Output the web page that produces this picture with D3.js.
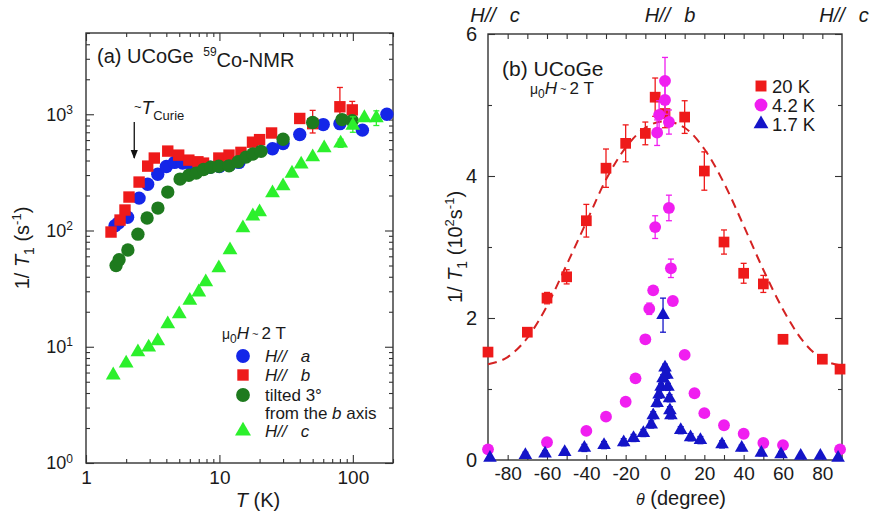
<!DOCTYPE html>
<html><head><meta charset="utf-8">
<script src="https://cdn.jsdelivr.net/npm/d3@7"></script>
<style>
body{margin:0;background:#fff}
svg text{font-family:"Liberation Sans",Arial,Helvetica,sans-serif;fill:#1a1a1a}
</style>
</head><body>
<svg id="chart" width="877" height="518"></svg>
<script>
// ---------- Panel (a): [T (K), 1/T1 (s^-1)] ----------
const aHa = [[1.65,110],[1.75,116],[2.05,130],[2.5,190],[2.9,250],[3.45,305],[4.0,355],[4.6,385],[5.3,380],[6.2,365],[7.2,350],[8.5,350],[10,355],[12,368],[14,385],[25,505],[30,560],[40,670],[60,815],[80,830],[118,730],[180,1000]];
const aHb = [[1.54,97],[1.8,123],[1.96,150],[2.1,194],[2.5,261],[2.9,358],[3.25,420],[4.1,482],[4.95,445],[5.9,403],[6.9,390],[7.6,380],[9.9,420],[11.8,445],[14.5,470],[17.7,575],[20,605],[24.6,690],[40,920],[50,830],[80,1160],[99,1090]];
const aHbErr = [[50,690,1080],[80,775,1700],[99,905,1290]];
const aTilt = [[1.68,50],[1.77,56],[2.06,68],[2.45,93],[2.87,128],[3.46,156],[4.1,214],[5.07,277],[5.9,299],[6.7,312],[7.6,335],[8.6,350],[9.9,357],[11.8,360],[13.8,390],[15.8,428],[17.8,455],[20.5,480],[30,610],[50,850],[83,900],[99,880]];
const aHc = [[1.6,5.7],[2.0,7.2],[2.45,9],[2.95,9.9],[3.45,11.2],[4.1,15.7],[5.0,19.1],[6.0,25],[7.0,29.5],[7.9,36],[9.9,47.5],[12,68],[15,105],[17.8,133],[20,144],[25,210],[30,241],[35,310],[41,372],[50,428],[61,512],[81,563],[100,800],[122,930],[150,930]];
const aHcErr = [[81,520,610],[100,700,950],[150,800,1070]];
const aXMajor = [1,10,100];
const aYMajor = [1,10,100,1000];

// ---------- Panel (b): [theta (deg), 1/T1 (10^2 s^-1), error] ----------
const b20K = [[-90,1.52,0],[-70,1.80,0.05],[-60,2.28,0.08],[-50,2.58,0.1],[-40,3.37,0.23],[-30,4.11,0.27],[-20,4.46,0.26],[-10,4.6,0.16],[-5,5.11,0.27],[0,4.88,0.2],[10,4.83,0.23],[20,4.07,0.27],[30,3.07,0.17],[40,2.63,0.14],[50,2.48,0.12],[60,1.70,0],[80,1.42,0],[89,1.28,0]];
const b42K = [[-90,0.15,0],[-60,0.25,0],[-40,0.41,0],[-30,0.61,0],[-20,0.82,0],[-15,1.15,0],[-10,1.70,0],[-8,2.13,0.08],[-6,2.39,0],[-5,3.28,0.16],[-4,4.61,0.18],[-3,4.86,0.2],[0,5.07,0.2],[0,5.34,0.33],[2,4.76,0.17],[2,3.55,0.18],[3,2.70,0.13],[4,2.24,0],[10,1.48,0],[15,0.94,0],[20,0.66,0],[30,0.49,0],[40,0.37,0],[50,0.24,0],[60,0.21,0],[89,0.15,0]];
const b17K = [[-89,0.03,0],[-71,0.07,0.04],[-61,0.09,0.04],[-51,0.11,0.04],[-41,0.17,0.05],[-31,0.21,0.05],[-21,0.25,0.05],[-16,0.31,0.05],[-11,0.38,0.05],[-7,0.5,0.05],[-6,0.63,0.05],[-4,0.8,0.05],[-3,0.92,0.05],[-2,1.03,0.05],[-1,1.15,0.05],[0,1.3,0.05],[1,1.2,0.05],[1.5,1.03,0.05],[2.3,0.87,0.05],[2.5,0.7,0.05],[3,0.63,0.05],[8,0.42,0.05],[13,0.32,0.05],[18,0.28,0.05],[29,0.22,0.05],[39,0.17,0.04],[49,0.1,0.04],[59,0.08,0.04],[69,0.06,0],[79,0.06,0],[88,0.03,0],[-1,2.04,0.24]];
const bFit = [[-90,1.35],[-80,1.45],[-70,1.72],[-60,2.17],[-50,2.75],[-40,3.35],[-30,3.95],[-20,4.4],[-10,4.68],[0,4.77],[10,4.68],[20,4.38],[30,3.9],[40,3.3],[50,2.68],[60,2.12],[70,1.68],[80,1.42],[90,1.33]];
const bXLabels = [-80,-60,-40,-20,0,20,40,60,80];
const bXMinor = [-80,-70,-60,-50,-40,-30,-20,-10,0,10,20,30,40,50,60,70,80];
const bYMajor = [0,2,4,6];
const bYMinor = [1,3,5];

const C = {blue:"#1426e8", red:"#ee1a1a", dgreen:"#1e7a1e", lgreen:"#2cf02c", mag:"#f01ef0", blue2:"#1414c8", fit:"#d42222", axis:"#333"};

const svg = d3.select("#chart");
const FONT = '"Liberation Sans",Arial,Helvetica,sans-serif';

function styleAxis(g, size){
  g.select(".domain").remove();
  g.attr("font-family", FONT).attr("font-size", size);
  g.selectAll(".tick line").attr("stroke", C.axis).attr("stroke-width", 1.1);
  g.selectAll(".tick text").attr("fill", "#1a1a1a");
}
const plain = d => String(d);

// =============== Panel (a) ===============
const aL=86, aR=393, aT=33, aB=463;
const xA = d3.scaleLog().domain([1,200]).range([aL,aR]);
const yA = d3.scaleLog().domain([1,5000]).range([aB,aT]);
const ga = svg.append("g");
const aXMinor = xA.ticks().filter(d => !aXMajor.includes(d));
const aYMinor = yA.ticks().filter(d => !aYMajor.includes(d));

ga.append("g").attr("transform",`translate(0,${aB})`).call(d3.axisBottom(xA).tickValues(aXMinor).tickSize(-4).tickFormat("")).call(g=>styleAxis(g,19));
ga.append("g").attr("transform",`translate(0,${aB})`).call(d3.axisBottom(xA).tickValues(aXMajor).tickSize(-8).tickPadding(8).tickFormat(plain)).call(g=>styleAxis(g,19));
ga.append("g").attr("transform",`translate(0,${aT})`).call(d3.axisTop(xA).tickValues(aXMinor).tickSize(-4).tickFormat("")).call(g=>styleAxis(g,19));
ga.append("g").attr("transform",`translate(0,${aT})`).call(d3.axisTop(xA).tickValues(aXMajor).tickSize(-8).tickFormat("")).call(g=>styleAxis(g,19));
ga.append("g").attr("transform",`translate(${aL},0)`).call(d3.axisLeft(yA).tickValues(aYMinor).tickSize(-4).tickFormat("")).call(g=>styleAxis(g,18));
const yAxA = ga.append("g").attr("transform",`translate(${aL},0)`).call(d3.axisLeft(yA).tickValues(aYMajor).tickSize(-8).tickPadding(13).tickFormat(d=>"10^"+Math.round(Math.log10(d)))).call(g=>styleAxis(g,18));
yAxA.selectAll(".tick text").each(function(d){
  const t = d3.select(this); t.text("");
  t.append("tspan").text("10");
  t.append("tspan").attr("dy","-0.55em").attr("font-size","12px").text(Math.round(Math.log10(d)));
});
ga.append("g").attr("transform",`translate(${aR},0)`).call(d3.axisRight(yA).tickValues(aYMinor).tickSize(-4).tickFormat("")).call(g=>styleAxis(g,18));
ga.append("g").attr("transform",`translate(${aR},0)`).call(d3.axisRight(yA).tickValues(aYMajor).tickSize(-8).tickFormat("")).call(g=>styleAxis(g,18));
ga.append("rect").attr("x",aL).attr("y",aT).attr("width",aR-aL).attr("height",aB-aT).attr("fill","none").attr("stroke",C.axis).attr("stroke-width",1.4);

function errA(data,color){
  const g = ga.append("g").attr("stroke",color).attr("stroke-width",1.3);
  data.forEach(([t,lo,hi])=>{
    g.append("line").attr("x1",xA(t)).attr("x2",xA(t)).attr("y1",yA(lo)).attr("y2",yA(hi));
    g.append("line").attr("x1",xA(t)-3).attr("x2",xA(t)+3).attr("y1",yA(lo)).attr("y2",yA(lo));
    g.append("line").attr("x1",xA(t)-3).attr("x2",xA(t)+3).attr("y1",yA(hi)).attr("y2",yA(hi));
  });
}
function symA(data,type,size,color){
  ga.append("g").selectAll("path").data(data).join("path")
    .attr("d", d3.symbol().type(type).size(size))
    .attr("transform", d=>`translate(${xA(d[0])},${yA(d[1])})`)
    .attr("fill", color);
}
errA(aHbErr, C.red);
symA(aHa, d3.symbolCircle, 140, C.blue);
symA(aHb, d3.symbolSquare, 130, C.red);
symA(aTilt, d3.symbolCircle, 140, C.dgreen);
errA(aHcErr, C.lgreen);
symA(aHc, d3.symbolTriangle, 95, C.lgreen);

const tA = ga.append("text").attr("x",97).attr("y",63).attr("font-size",20);
tA.append("tspan").text("(a) UCoGe ");
tA.append("tspan").attr("dx",4).attr("dy","-0.55em").attr("font-size",12).text("59");
tA.append("tspan").attr("dy","0.55em").text("Co-NMR");

const tc = ga.append("text").attr("x",134).attr("y",114).attr("font-size",19);
tc.append("tspan").attr("font-size",13).attr("dy",-3).text("~");
tc.append("tspan").attr("dy",3).attr("font-style","italic").text("T");
tc.append("tspan").attr("font-size",13).attr("dy",6).text("Curie");
svg.append("defs").append("marker").attr("id","arr").attr("viewBox","0 0 10 10").attr("refX",9).attr("refY",5)
  .attr("markerWidth",7).attr("markerHeight",7).attr("orient","auto")
  .append("path").attr("d","M0,1 L10,5 L0,9 Z").attr("fill","#111");
ga.append("line").attr("x1",xA(2.3)).attr("x2",xA(2.3)).attr("y1",122).attr("y2",158).attr("stroke","#111").attr("stroke-width",1.3).attr("marker-end","url(#arr)");

const lgA = ga.append("g").attr("font-size",17);
const hdr = lgA.append("text").attr("x",222).attr("y",339);
hdr.append("tspan").attr("font-size",14).text("μ");
hdr.append("tspan").attr("font-size",12).attr("dy",4).text("0");
hdr.append("tspan").attr("dy",-4).attr("font-style","italic").text("H");
hdr.append("tspan").attr("font-size",11).attr("dy",-1).text(" ~ ");
hdr.append("tspan").attr("dy",1).text("2 T");
const legAItems = [
  {y:356, type:d3.symbolCircle, size:150, color:C.blue, t:"a"},
  {y:375, type:d3.symbolSquare, size:130, color:C.red, t:"b"},
  {y:395, type:d3.symbolCircle, size:150, color:C.dgreen, t:null},
  {y:431, type:d3.symbolTriangle, size:110, color:C.lgreen, t:"c"}
];
legAItems.forEach(it=>{
  lgA.append("path").attr("d",d3.symbol().type(it.type).size(it.size)).attr("transform",`translate(243,${it.y})`).attr("fill",it.color);
  if(it.t){
    const tx = lgA.append("text").attr("x",265).attr("y",it.y+6).attr("font-style","italic");
    tx.append("tspan").text("H//");
    tx.append("tspan").attr("dx",14).text(it.t);
  }
});
lgA.append("text").attr("x",265).attr("y",401).text("tilted 3°");
const fr = lgA.append("text").attr("x",265).attr("y",419);
fr.append("tspan").text("from the ");
fr.append("tspan").attr("font-style","italic").text("b");
fr.append("tspan").text(" axis");

const xtA = ga.append("text").attr("x",258).attr("y",507).attr("text-anchor","middle").attr("font-size",20);
xtA.append("tspan").attr("font-style","italic").text("T");
xtA.append("tspan").text(" (K)");
const ytA = ga.append("text").attr("transform","translate(29,248) rotate(-90)").attr("text-anchor","middle").attr("font-size",20);
ytA.append("tspan").text("1/ ");
ytA.append("tspan").attr("font-style","italic").text("T");
ytA.append("tspan").attr("font-size",14).attr("dy",5).text("1");
ytA.append("tspan").attr("dy",-5).text(" (s");
ytA.append("tspan").attr("font-size",13).attr("dy",-8).text("-1");
ytA.append("tspan").attr("dy",8).text(")");

// =============== Panel (b) ===============
const bL=488, bR=842, bT=34, bB=460;
const xB = d3.scaleLinear().domain([-90,90]).range([bL,bR]);
const yB = d3.scaleLinear().domain([0,6]).range([bB,bT]);
const gb = svg.append("g");
gb.append("g").attr("transform",`translate(0,${bB})`).call(d3.axisBottom(xB).tickValues(bXMinor).tickSize(-5).tickFormat("")).call(g=>styleAxis(g,19));
gb.append("g").attr("transform",`translate(0,${bB})`).call(d3.axisBottom(xB).tickValues(bXLabels).tickSize(0).tickPadding(7).tickFormat(plain)).call(g=>styleAxis(g,19));
gb.append("g").attr("transform",`translate(0,${bT})`).call(d3.axisTop(xB).tickValues(bXMinor).tickSize(-5).tickFormat("")).call(g=>styleAxis(g,19));
gb.append("g").attr("transform",`translate(${bL},0)`).call(d3.axisLeft(yB).tickValues(bYMinor).tickSize(-4).tickFormat("")).call(g=>styleAxis(g,19));
gb.append("g").attr("transform",`translate(${bL},0)`).call(d3.axisLeft(yB).tickValues(bYMajor).tickSize(-7).tickPadding(11).tickFormat(plain)).call(g=>styleAxis(g,20));
gb.append("g").attr("transform",`translate(${bR},0)`).call(d3.axisRight(yB).tickValues(bYMinor).tickSize(-4).tickFormat("")).call(g=>styleAxis(g,19));
gb.append("g").attr("transform",`translate(${bR},0)`).call(d3.axisRight(yB).tickValues(bYMajor).tickSize(-7).tickFormat("")).call(g=>styleAxis(g,19));
gb.append("rect").attr("x",bL).attr("y",bT).attr("width",bR-bL).attr("height",bB-bT).attr("fill","none").attr("stroke",C.axis).attr("stroke-width",1.4);

gb.append("path").datum(bFit)
  .attr("d", d3.line().x(d=>xB(d[0])).y(d=>yB(d[1])).curve(d3.curveMonotoneX))
  .attr("fill","none").attr("stroke",C.fit).attr("stroke-width",2).attr("stroke-dasharray","9,6");

function errB(data,color){
  const g = gb.append("g").attr("stroke",color).attr("stroke-width",1.3);
  data.filter(d=>d[2]>0).forEach(([t,v,e])=>{
    g.append("line").attr("x1",xB(t)).attr("x2",xB(t)).attr("y1",yB(v-e)).attr("y2",yB(v+e));
    g.append("line").attr("x1",xB(t)-3).attr("x2",xB(t)+3).attr("y1",yB(v-e)).attr("y2",yB(v-e));
    g.append("line").attr("x1",xB(t)-3).attr("x2",xB(t)+3).attr("y1",yB(v+e)).attr("y2",yB(v+e));
  });
}
function symB(data,type,size,color){
  gb.append("g").selectAll("path").data(data).join("path")
    .attr("d", d3.symbol().type(type).size(size))
    .attr("transform", d=>`translate(${xB(d[0])},${yB(d[1])})`)
    .attr("fill", color);
}
errB(b20K, C.red);
symB(b20K, d3.symbolSquare, 115, C.red);
errB(b42K, C.mag);
symB(b42K, d3.symbolCircle, 110, C.mag);
errB(b17K, C.blue2);
symB(b17K, d3.symbolTriangle, 80, C.blue2);

[[-90,7],[0,5],[90,2]].forEach(([th,off])=>{
  const t = gb.append("text").attr("x",xB(th)+off).attr("y",22).attr("text-anchor","middle").attr("font-size",20).attr("font-style","italic");
  t.append("tspan").text("H//");
  t.append("tspan").attr("dx",14).text(th===0?"b":"c");
});

gb.append("text").attr("x",502).attr("y",76).attr("font-size",21).text("(b) UCoGe");
const hb = gb.append("text").attr("x",530).attr("y",94).attr("font-size",17);
hb.append("tspan").attr("font-size",14).text("μ");
hb.append("tspan").attr("font-size",12).attr("dy",4).text("0");
hb.append("tspan").attr("dy",-4).attr("font-style","italic").text("H");
hb.append("tspan").attr("font-size",11).attr("dy",-1).text(" ~ ");
hb.append("tspan").attr("dy",1).text("2 T");

const legB = [
  {y:86, type:d3.symbolSquare, size:120, color:C.red, t:"20 K"},
  {y:105, type:d3.symbolCircle, size:130, color:C.mag, t:"4.2 K"},
  {y:124, type:d3.symbolTriangle, size:95, color:C.blue2, t:"1.7 K"}
];
legB.forEach(it=>{
  gb.append("path").attr("d",d3.symbol().type(it.type).size(it.size)).attr("transform",`translate(761,${it.y})`).attr("fill",it.color);
  gb.append("text").attr("x",772).attr("y",it.y+7).attr("font-size",18.5).text(it.t);
});

const xtB = gb.append("text").attr("x",681).attr("y",505).attr("text-anchor","middle").attr("font-size",20);
xtB.append("tspan").attr("font-style","italic").attr("font-size",16).text("θ");
xtB.append("tspan").text(" (degree)");
const ytB = gb.append("text").attr("transform","translate(462,247) rotate(-90)").attr("text-anchor","middle").attr("font-size",20);
ytB.append("tspan").text("1/ ");
ytB.append("tspan").attr("font-style","italic").text("T");
ytB.append("tspan").attr("font-size",14).attr("dy",5).text("1");
ytB.append("tspan").attr("dy",-5).text(" (10");
ytB.append("tspan").attr("font-size",13).attr("dy",-8).text("2");
ytB.append("tspan").attr("dy",8).text("s");
ytB.append("tspan").attr("font-size",13).attr("dy",-8).text("-1");
ytB.append("tspan").attr("dy",8).text(")");
</script>
</body></html>
